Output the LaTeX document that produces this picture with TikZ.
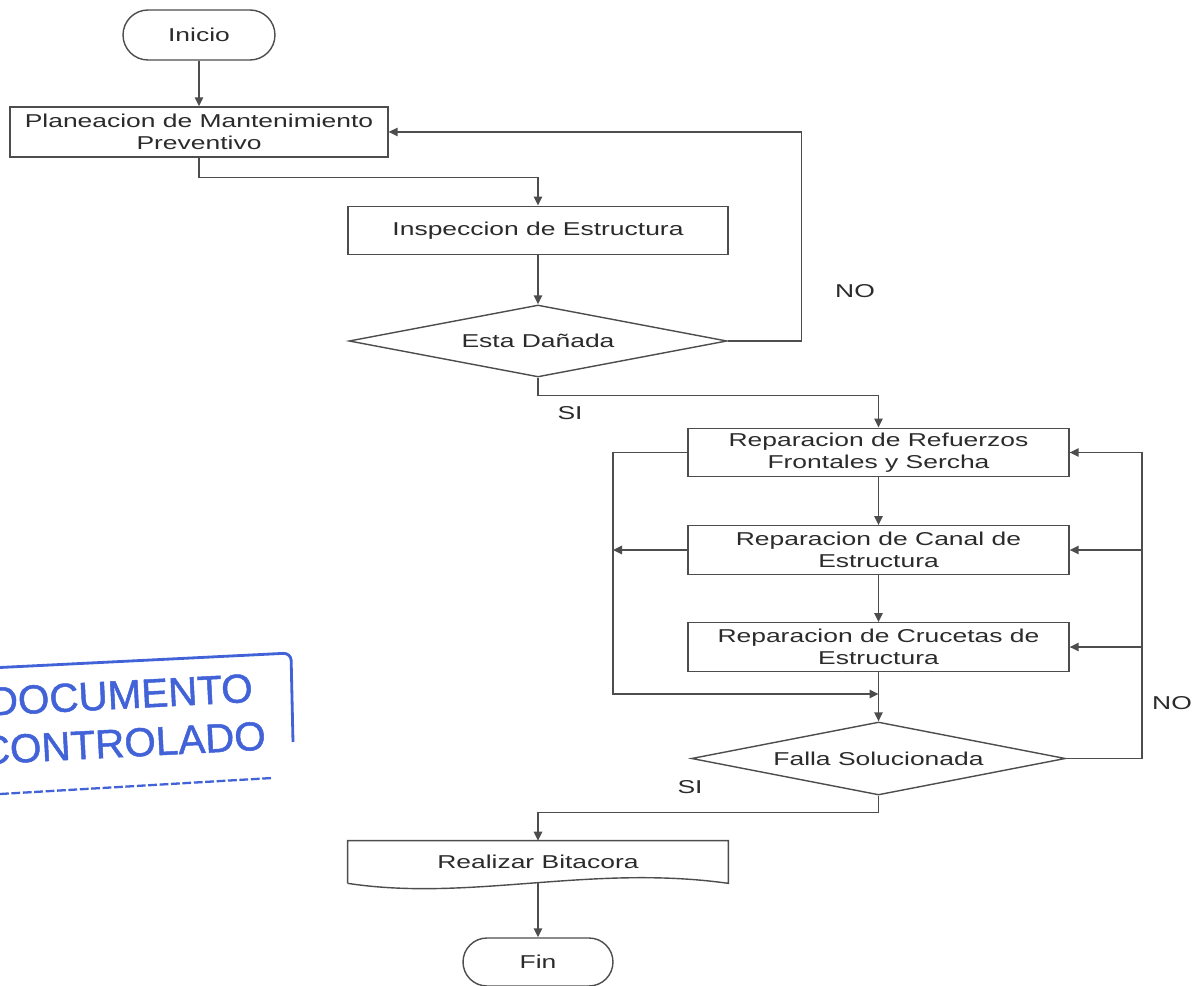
\documentclass[tikz,border=0pt]{standalone}
\usepackage{fontspec}
\setmainfont{Liberation Sans}[FakeStretch=1.42]
\newfontfamily\sellofont{Liberation Sans}[FakeBold=1.2]
\usepackage{xcolor}
\usepackage{tikz}
\usetikzlibrary{calc,shapes.geometric,shapes.misc,arrows.meta}
\definecolor{bg}{HTML}{FFFFFF}
\definecolor{linea}{HTML}{4D4D4D}
\definecolor{texto}{HTML}{2B2B2B}
\definecolor{sello}{HTML}{4262D8}
\tikzset{
  caja/.style={draw=linea, line width=0.8pt, rectangle, text=texto, align=center, inner sep=0pt, minimum height=0.97cm},
  term/.style={draw=linea, line width=0.8pt, rounded rectangle, text=texto, inner sep=0pt},
  decis/.style={draw=linea, line width=0.8pt, diamond, aspect=5.2, text=texto, inner sep=0pt},
  docu/.style={rectangle, text=texto, inner sep=0pt, minimum width=7.6cm, minimum height=0.84cm},
  flecha/.style={draw=linea, line width=0.8pt, -{Triangle[length=0.18cm,width=0.17cm]}},
  linea/.style={draw=linea, line width=0.8pt},
  lab/.style={text=texto},
  sellotxt/.style={text=sello, font=\sellofont\fontsize{23}{27.5}\selectfont, align=center, rotate=3, inner sep=0pt},
}

\begin{document}
\begin{tikzpicture}[x=0.02cm, y=-0.02cm, font=\fontsize{10.6}{12.3}\selectfont]
  \useasboundingbox[fill=bg] (0,0) rectangle (1197,986);

  \node[term, minimum width=3.04cm, minimum height=1cm] (inicio) at (199,35) {Inicio};
  \node[caja, minimum width=7.56cm, minimum height=1cm] (plan) at (199,132) {Planeacion de Mantenimiento\\Preventivo};
  \node[caja, minimum width=7.6cm] (insp) at (538,230.5) {Inspeccion de Estructura};
  \node[decis, minimum width=7.56cm, minimum height=1.44cm] (dano) at (538,341) {Esta Dañada};
  \node[caja, minimum width=7.62cm] (rep1) at (878.5,452.5) {Reparacion de Refuerzos\\Frontales y Sercha};
  \node[caja, minimum width=7.62cm] (rep2) at (878.5,550) {Reparacion de Canal de\\Estructura};
  \node[caja, minimum width=7.62cm] (rep3) at (878.5,647) {Reparacion de Crucetas de\\Estructura};
  \node[decis, minimum width=7.48cm, minimum height=1.46cm] (falla) at (878.5,758.5) {Falla Solucionada};
  \node[docu] (bitac) at (538,862) {Realizar Bitacora};
  \node[term, minimum width=3cm, minimum height=0.96cm] (fin) at (538,962) {Fin};

  \draw[linea] (bitac.south west) -- (bitac.north west) -- (bitac.north east) -- (bitac.south east)
    .. controls (590,864) and (470,902) .. (bitac.south west);

  \node[lab] (no1) at (855,291) {NO};
  \node[lab] (si1) at (570,413) {SI};
  \node[lab] (no2) at (1172,703) {NO};
  \node[lab] (si2) at (690,787) {SI};

  \coordinate (izq) at (613,452.5);
  \coordinate (junta) at (878.5,694);
  \coordinate (der) at (1142,758.5);

  \draw[flecha] (inicio.south) -- (plan.north);
  \draw[flecha] (plan.south) -- ++(0,20) -| (insp.north);
  \draw[flecha] (insp.south) -- (dano.north);
  \draw[flecha] (dano.east) -- ++(74,0) |- (plan.east);
  \draw[flecha] (dano.south) -- ++(0,18) -| (rep1.north);
  \draw[flecha] (rep1.south) -- (rep2.north);
  \draw[flecha] (rep2.south) -- (rep3.north);
  \draw[flecha] (rep3.south) -- (falla.north);
  \draw[flecha] (rep1.west) -- (izq) |- (junta);
  \draw[flecha] (rep2.west) -- (rep2.west -| izq);
  \draw[flecha] (falla.east) -- (der) |- (rep1.east);
  \draw[flecha] (der |- rep2.east) -- (rep2.east);
  \draw[flecha] (der |- rep3.east) -- (rep3.east);
  \draw[flecha] (falla.south) -- ++(0,17) -| (bitac.north);
  \draw[flecha] (bitac.south) -- (fin.north);

  \draw[sello, line width=1.6pt, rounded corners=0.15cm] (-10,668) -- (291,653) -- (293,742);
  \draw[sello, line width=1.3pt, dash pattern=on 5pt off 1.5pt] (0,794) -- (272,778);
  \node[sellotxt] (sello) at (122,719) {DOCUMENTO\\CONTROLADO};
\end{tikzpicture}
\end{document}
